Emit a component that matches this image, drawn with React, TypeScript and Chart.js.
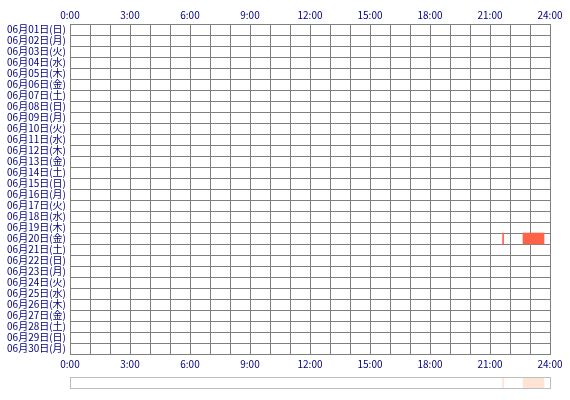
import { useEffect, useRef } from "react";
import { Chart, registerables } from "chart.js";

Chart.register(...registerables);

const days = [
  "06月01日(日)", "06月02日(月)", "06月03日(火)", "06月04日(水)", "06月05日(木)",
  "06月06日(金)", "06月07日(土)", "06月08日(日)", "06月09日(月)", "06月10日(火)",
  "06月11日(水)", "06月12日(木)", "06月13日(金)", "06月14日(土)", "06月15日(日)",
  "06月16日(月)", "06月17日(火)", "06月18日(水)", "06月19日(木)", "06月20日(金)",
  "06月21日(土)", "06月22日(日)", "06月23日(月)", "06月24日(火)", "06月25日(水)",
  "06月26日(木)", "06月27日(金)", "06月28日(土)", "06月29日(日)", "06月30日(月)",
];

const hourLabels = ["0:00", "3:00", "6:00", "9:00", "12:00", "15:00", "18:00", "21:00", "24:00"];

// sessions (hours of day)
const sessionDay = ["06月20日(金)", "06月20日(金)"];
const sessionStart = [21.63, 22.65];
const sessionEnd = [21.68, 23.7];

const TEXT = "#000080";
const GRID = "#808080";
const FONT = "'Noto Sans CJK JP', sans-serif";

const hourTick = (v: string | number) => {
  const n = Number(v);
  return n % 3 === 0 ? hourLabels[n / 3] : "";
};

export default function App() {
  const mainRef = useRef<HTMLCanvasElement>(null);
  const stripRef = useRef<HTMLCanvasElement>(null);

  useEffect(() => {
    document.body.style.margin = "0";
    if (!mainRef.current || !stripRef.current) return;

    const sessions = sessionDay.map((d, i) => ({ x: [sessionStart[i], sessionEnd[i]], y: d }));

    const xTicks = {
      stepSize: 1,
      autoSkip: false,
      maxRotation: 0,
      color: TEXT,
      font: { family: FONT, size: 10 },
      callback: hourTick,
    };

    const main = new Chart(mainRef.current, {
      type: "bar",
      data: {
        labels: days,
        datasets: [
          {
            data: sessions as any,
            backgroundColor: "#FF6347",
            borderWidth: 0,
            barPercentage: 1,
            categoryPercentage: 1,
          },
        ],
      },
      options: {
        indexAxis: "y",
        responsive: false,
        animation: false,
        layout: { padding: { right: 20 } },
        plugins: { legend: { display: false }, tooltip: { enabled: false } },
        scales: {
          x: {
            type: "linear",
            position: "bottom",
            min: 0,
            max: 24,
            grid: { color: GRID, drawTicks: false },
            border: { color: GRID },
            ticks: { ...xTicks, padding: 4 },
            afterFit: (s: any) => {
              s.height = 16;
            },
          },
          x2: {
            type: "linear",
            position: "top",
            min: 0,
            max: 24,
            grid: { display: false, drawTicks: false },
            border: { color: GRID },
            ticks: { ...xTicks, padding: 3 },
            afterFit: (s: any) => {
              s.height = 24;
            },
          },
          y: {
            type: "category",
            offset: true,
            grid: { color: GRID, drawTicks: false, offset: true },
            border: { color: GRID },
            ticks: {
              autoSkip: false,
              padding: 4,
              color: TEXT,
              font: { family: FONT, size: 10 },
            },
            afterFit: (s: any) => {
              s.width = 70;
            },
          },
        },
      },
    });

    const strip = new Chart(stripRef.current, {
      type: "bar",
      data: {
        labels: ["all"],
        datasets: [
          {
            data: sessionStart.map((s, i) => ({ x: [s, sessionEnd[i]], y: "all" })) as any,
            backgroundColor: "#FFE3D5",
            borderWidth: 0,
            barPercentage: 1,
            categoryPercentage: 1,
          },
        ],
      },
      options: {
        indexAxis: "y",
        responsive: false,
        animation: false,
        layout: { padding: 0 },
        plugins: { legend: { display: false }, tooltip: { enabled: false } },
        scales: {
          x: { type: "linear", min: 0, max: 24, display: false },
          y: { type: "category", display: false },
        },
      },
    });

    return () => {
      main.destroy();
      strip.destroy();
    };
  }, []);

  return (
    <div style={{ position: "relative", width: 570, height: 400, background: "#fff" }}>
      <canvas ref={mainRef} width={570} height={370} style={{ position: "absolute", left: 0, top: 0 }} />
      <div
        style={{
          position: "absolute",
          left: 70,
          top: 377,
          width: 479,
          height: 10,
          border: "1px solid #BDBDBD",
        }}
      >
        <canvas ref={stripRef} width={479} height={10} style={{ display: "block" }} />
      </div>
    </div>
  );
}
